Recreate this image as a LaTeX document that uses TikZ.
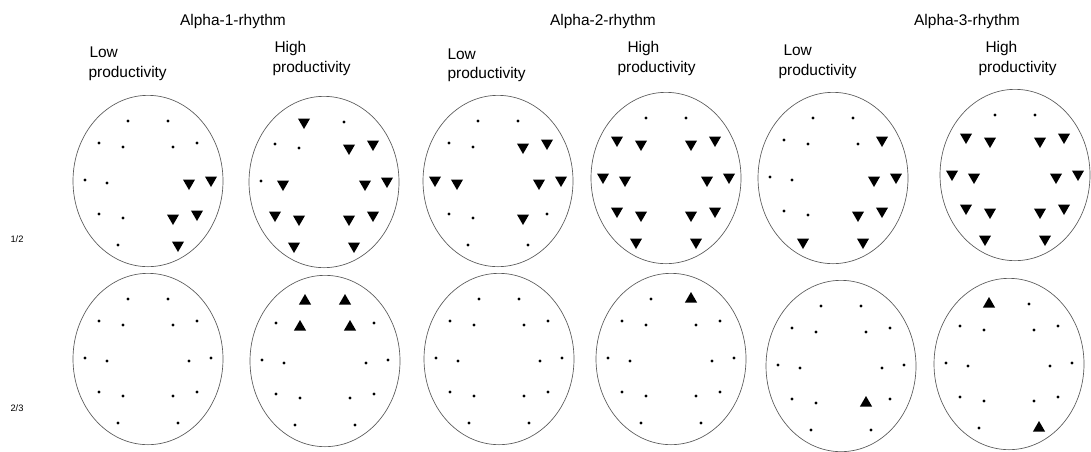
\documentclass[tikz,border=0pt]{standalone}
\usepackage{fontspec}
\setmainfont{Liberation Sans}
\usetikzlibrary{shapes.geometric}
\tikzset{every picture/.style={line width=0.75pt}}
\tikzset{
  head/.style={draw=black!65, line width=0.5pt, ellipse, inner sep=0pt, minimum width=112.5pt, minimum height=128.5pt},
  dt/.style={circle, fill=black, inner sep=0pt, minimum size=2.3pt},
  dnt/.style={regular polygon, regular polygon sides=3, shape border rotate=180, fill=black, inner sep=0pt, minimum size=10.5pt},
  upt/.style={regular polygon, regular polygon sides=3, fill=black, inner sep=0pt, minimum size=10.5pt},
  rhythm/.style={font=\fontsize{11.6}{14}\selectfont, anchor=base, inner sep=0pt},
  prod/.style={font=\fontsize{11.6}{14}\selectfont, anchor=base west, inner sep=0pt},
  cond/.style={font=\fontsize{7}{8}\selectfont, anchor=west, inner sep=0pt},
}
% electrode offsets: Fp1 Fp2 F7 F3 F4 F8 T3 C3 C4 T4 T5 P3 P4 T6 O1 O2
\def\elx{{-20,20,-49,-25,25,49,-63,-41,41,63,-49,-25,25,49,-30,30}}
\def\ely{{-60,-60,-38,-34,-34,-38,-1,2,2,-1,33,37,37,33,64,64}}
\newcommand\headmap[4]{%
  \node[head] (#1) at (#2,#3) {};
  \foreach \m [count=\i] in {#4} {
    \pgfmathsetmacro\elex{#2+\elx[\i-1]}
    \pgfmathsetmacro\eley{#3+\ely[\i-1]}
    \node[\m] (#1-\i) at (\elex,\eley) {};
  }}

\begin{document}
\begin{tikzpicture}[x=0.75pt,y=0.75pt,yscale=-1,xscale=1]
    \useasboundingbox (0,0) rectangle (1091,451);
    % titles
    \node[rhythm] (ta1) at (233,25) {Alpha-1-rhythm};
    \node[rhythm] (ta2) at (603,25) {Alpha-2-rhythm};
    \node[rhythm] (ta3) at (967,25) {Alpha-3-rhythm};
    \node[prod] (lo1) at (89,57) {Low};
    \node[prod] (lo1b) at (88,77) {productivity};
    \node[prod] (hi1) at (274,52) {High};
    \node[prod] (hi1b) at (272,72) {productivity};
    \node[prod] (lo2) at (447,59) {Low};
    \node[prod] (lo2b) at (447,78) {productivity};
    \node[prod] (hi2) at (627,52) {High};
    \node[prod] (hi2b) at (617,72) {productivity};
    \node[prod] (lo3) at (783,55) {Low};
    \node[prod] (lo3b) at (778,75) {productivity};
    \node[prod] (hi3) at (985,52) {High};
    \node[prod] (hi3b) at (978,72) {productivity};
    \node[cond] (c12) at (10,239) {1/2};
    \node[cond] (c23) at (10,408) {2/3};
    % row 1/2
    \headmap{r1c1}{148}{181}{dt,dt,dt,dt,dt,dt,dt,dt,dnt,dnt,dt,dt,dnt,dnt,dt,dnt}
    \headmap{r1c2}{324}{182}{dnt,dt,dt,dt,dnt,dnt,dt,dnt,dnt,dnt,dnt,dnt,dnt,dnt,dnt,dnt}
    \headmap{r1c3}{498}{181}{dt,dt,dt,dt,dnt,dnt,dnt,dnt,dnt,dnt,dt,dt,dnt,dt,dt,dt}
    \headmap{r1c4}{666}{178}{dt,dt,dnt,dnt,dnt,dnt,dnt,dnt,dnt,dnt,dnt,dnt,dnt,dnt,dnt,dnt}
    \headmap{r1c5}{833}{178}{dt,dt,dt,dt,dt,dnt,dt,dt,dnt,dnt,dt,dt,dnt,dnt,dnt,dnt}
    \headmap{r1c6}{1015}{175}{dt,dt,dnt,dnt,dnt,dnt,dnt,dnt,dnt,dnt,dnt,dnt,dnt,dnt,dnt,dnt}
    % row 2/3
    \headmap{r2c1}{148}{359}{dt,dt,dt,dt,dt,dt,dt,dt,dt,dt,dt,dt,dt,dt,dt,dt}
    \headmap{r2c2}{325}{361}{upt,upt,dt,upt,upt,dt,dt,dt,dt,dt,dt,dt,dt,dt,dt,dt}
    \headmap{r2c3}{499}{359}{dt,dt,dt,dt,dt,dt,dt,dt,dt,dt,dt,dt,dt,dt,dt,dt}
    \headmap{r2c4}{671}{359}{dt,upt,dt,dt,dt,dt,dt,dt,dt,dt,dt,dt,dt,dt,dt,dt}
    \headmap{r2c5}{841}{366}{dt,dt,dt,dt,dt,dt,dt,dt,dt,dt,dt,dt,upt,dt,dt,dt}
    \headmap{r2c6}{1009}{364}{upt,dt,dt,dt,dt,dt,dt,dt,dt,dt,dt,dt,dt,dt,dt,upt}
\end{tikzpicture}
\end{document}
